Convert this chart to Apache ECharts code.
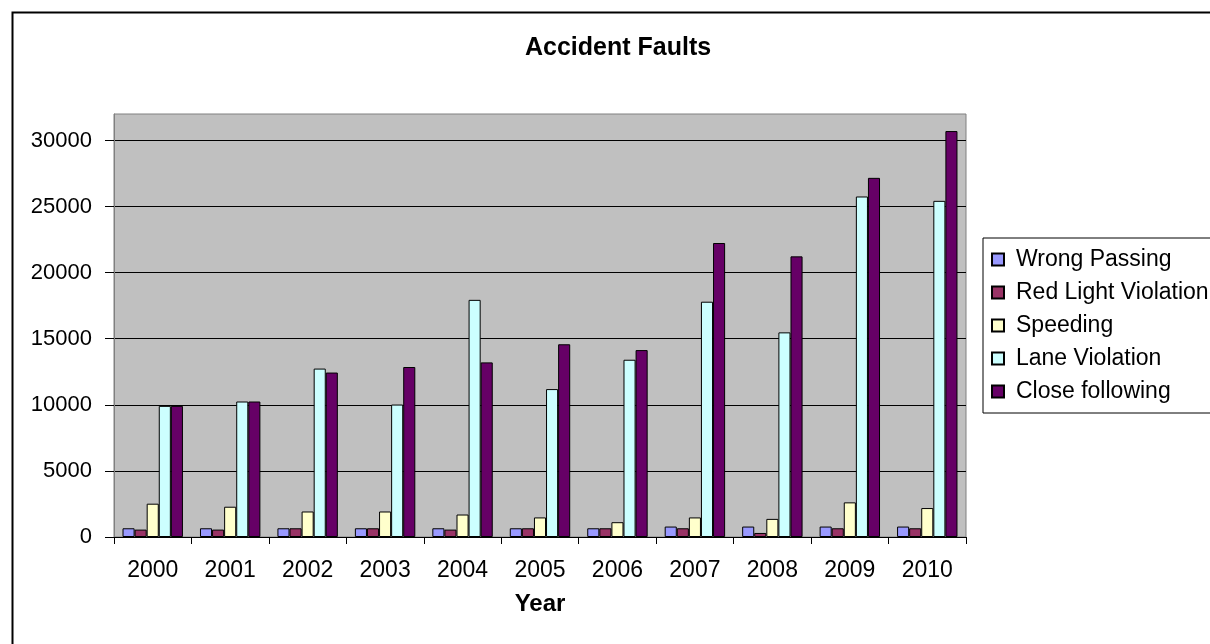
<!DOCTYPE html>
<html>
<head>
<meta charset="utf-8">
<script src="https://cdn.jsdelivr.net/npm/echarts@6/dist/echarts.min.js"></script>
<style>
html,body{margin:0;padding:0;background:#fff;}
#chart{width:1210px;height:644px;}
</style>
</head>
<body>
<div id="chart"></div>
<script>
const years = ['2000','2001','2002','2003','2004','2005','2006','2007','2008','2009','2010'];
const wrongPassing = [660, 660, 660, 660, 660, 660, 660, 790, 790, 790, 790];
const redLight = [560, 560, 660, 660, 560, 660, 660, 660, 305, 660, 660];
const speeding = [2520, 2290, 1930, 1930, 1700, 1480, 1120, 1480, 1370, 2620, 2190];
const laneViolation = [9920, 10250, 12740, 10020, 17940, 11190, 13410, 17800, 15480, 25760, 25430];
const closeFollowing = [9920, 10250, 12440, 12860, 13210, 14580, 14140, 22240, 21230, 27170, 30710];
const yTicks = [0, 5000, 10000, 15000, 20000, 25000, 30000];

const seriesNames = ['Wrong Passing','Red Light Violation','Speeding','Lane Violation','Close following'];
const seriesData = [wrongPassing, redLight, speeding, laneViolation, closeFollowing];
const seriesColors = ['#9999FF','#993366','#FFFFCC','#CCFFFF','#660066'];

const FONT = 'Liberation Sans, Arial, sans-serif';
const chart = echarts.init(document.getElementById('chart'));
chart.setOption({
  animation: false,
  backgroundColor: '#fff',
  textStyle: {fontFamily: FONT},
  graphic: [{
    type: 'rect', left: 10, top: 10, z: -10,
    shape: {width: 1230, height: 700},
    style: {fill: 'none', stroke: '#000', lineWidth: 2}
  }],
  title: {
    text: 'Accident Faults', left: 525, top: 36, padding: 0,
    textStyle: {fontFamily: FONT, fontSize: 25, fontWeight: 'bold', color: '#000'}
  },
  legend: {
    orient: 'vertical', left: 983, top: 238,
    icon: 'rect',
    itemWidth: 12, itemHeight: 12, itemGap: 10,
    padding: [10, 60, 10, 8],
    borderColor: '#000', borderWidth: 1, backgroundColor: '#fff',
    textStyle: {fontFamily: FONT, fontSize: 23, color: '#000', padding: [0,0,0,7]},
    data: seriesNames
  },
  grid: {
    left: 114, right: 244, top: 114, bottom: 107,
    show: true, backgroundColor: '#C0C0C0', borderColor: '#808080', borderWidth: 1
  },
  xAxis: {
    type: 'category', data: years, boundaryGap: true,
    name: 'Year', nameLocation: 'middle', nameGap: 55,
    nameTextStyle: {fontFamily: FONT, fontSize: 24, fontWeight: 'bold', color: '#000'},
    axisLine: {lineStyle: {color: '#000', width: 1}},
    axisTick: {show: true, inside: false, length: 7, lineStyle: {color: '#000'}},
    axisLabel: {fontFamily: FONT, fontSize: 23, color: '#000', margin: 22, interval: 0},
    splitLine: {show: false}
  },
  yAxis: {
    type: 'value', min: 0, max: 32000, interval: 5000,
    axisLine: {show: true, lineStyle: {color: '#808080'}},
    axisTick: {show: true, length: 9, customValues: yTicks, lineStyle: {color: '#000'}},
    axisLabel: {fontFamily: FONT, fontSize: 22, color: '#000', margin: 22, customValues: yTicks,
      formatter: v => String(v)},
    splitLine: {show: true, lineStyle: {color: ['#000','#000','#000','#000','#000','#000','#000','#808080'], width: 1}}
  },
  series: seriesNames.map((n, i) => ({
    name: n, type: 'bar', data: seriesData[i],
    barGap: '0%', barCategoryGap: '22%',
    itemStyle: {color: seriesColors[i], borderColor: '#000', borderWidth: 1}
  }))
});
</script>
</body>
</html>
